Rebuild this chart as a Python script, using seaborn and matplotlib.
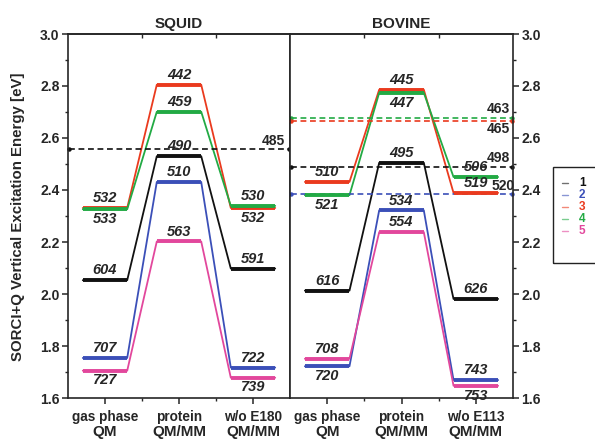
import numpy as np
import pandas as pd
import matplotlib
matplotlib.use("Agg")
import matplotlib.pyplot as plt
import seaborn as sns
from matplotlib.lines import Line2D
from matplotlib.patches import Rectangle
from matplotlib.ticker import MultipleLocator, FixedLocator

# ============================================
# Data (energies in eV, labels are wavelengths in nm)
# ============================================
states = ["1", "2", "3", "4", "5"]
state_colors = ["#111111", "#3b4fb8", "#ea3a1e", "#22aa44", "#e2479c"]

squid_cats = ["gas phase", "protein", "w/o E180"]
bovine_cats = ["gas phase", "protein", "w/o E113"]
cat_methods = ["QM", "QM/MM", "QM/MM"]

squid_energy = [
    [2.053, 2.530, 2.098],
    [1.754, 2.431, 1.717],
    [2.331, 2.805, 2.331],
    [2.326, 2.701, 2.339],
    [1.705, 2.202, 1.678],
]
squid_nm = [
    [604, 490, 591],
    [707, 510, 722],
    [532, 442, 532],
    [533, 459, 530],
    [727, 563, 739],
]
# label under the level instead of above
squid_below = [
    [False, False, False],
    [False, False, False],
    [False, False, True],
    [True, False, False],
    [True, False, True],
]

bovine_energy = [
    [2.013, 2.505, 1.981],
    [1.722, 2.322, 1.669],
    [2.431, 2.786, 2.389],
    [2.380, 2.774, 2.450],
    [1.751, 2.238, 1.647],
]
bovine_nm = [
    [616, 495, 626],
    [720, 534, 743],
    [510, 445, 519],
    [521, 447, 506],
    [708, 554, 753],
]
bovine_below = [
    [False, False, False],
    [True, False, False],
    [False, False, False],
    [True, True, False],
    [False, False, True],
]

# experimental reference lines (dashed)
squid_ref_state = [0]
squid_ref_energy = [2.556]
squid_ref_nm = [485]
squid_ref_below = [False]

bovine_ref_state = [3, 2, 0, 1]
bovine_ref_energy = [2.678, 2.666, 2.490, 2.384]
bovine_ref_nm = [463, 465, 498, 520]
bovine_ref_below = [False, True, False, False]

# layout only
HALF = 0.3  # half width of a level
squid_ref_label_x = [2.78]
bovine_ref_label_x = [2.80, 2.80, 2.80, 2.87]


def draw_panel(ax, title, cats, energy, nm, below, ref_state, ref_energy, ref_nm, ref_below, ref_x):
    # thin connecting profile for each state
    rows = []
    for s, row in enumerate(energy):
        for i, e in enumerate(row):
            rows.append({"state": states[s], "x": i + 0.5 - HALF, "energy": e})
            rows.append({"state": states[s], "x": i + 0.5 + HALF, "energy": e})
    df = pd.DataFrame(rows)
    sns.lineplot(data=df, x="x", y="energy", hue="state", palette=state_colors,
                 sort=False, estimator=None, linewidth=1.3, legend=False, ax=ax)

    # thick levels + labels
    for s, row in enumerate(energy):
        for i, e in enumerate(row):
            ax.hlines(e, i + 0.5 - HALF, i + 0.5 + HALF, color=state_colors[s], lw=2.8, zorder=3)
            dy = -2 if below[s][i] else 2
            ax.annotate(str(nm[s][i]), (i + 0.5, e), xytext=(0, dy), textcoords="offset points",
                        ha="center", va="top" if below[s][i] else "bottom",
                        fontsize=10.5, fontweight="bold", fontstyle="italic", zorder=4)

    # dashed experimental references
    for k, e in enumerate(ref_energy):
        c = state_colors[ref_state[k]]
        ax.plot([0.02, 2.98], [e, e], ls=(0, (3.5, 2.2)), lw=1.2, color=c, zorder=2,
                marker="o", ms=2.2, clip_on=False)
        ax.annotate(str(ref_nm[k]), (ref_x[k], e), xytext=(0, -1 if ref_below[k] else 1),
                    textcoords="offset points", ha="center",
                    va="top" if ref_below[k] else "bottom",
                    fontsize=10, fontweight="bold", zorder=4)

    ax.set_xlim(0, 3)
    ax.set_ylim(1.6, 3.0)
    ax.set_xlabel("")
    ax.set_ylabel("")
    ax.set_title(title, fontsize=11, fontweight="bold", pad=4)

    ax.xaxis.set_major_locator(FixedLocator([0.5, 1.5, 2.5]))
    ax.xaxis.set_minor_locator(FixedLocator([1, 2]))
    ax.set_xticklabels(cats, fontsize=9.8, fontweight="bold")
    ax.yaxis.set_major_locator(MultipleLocator(0.2))
    ax.yaxis.set_minor_locator(MultipleLocator(0.1))
    ax.tick_params(which="major", length=4, width=1.1, direction="out", pad=2)
    ax.tick_params(axis="x", which="major", pad=4.5)
    ax.tick_params(which="minor", length=2.5, width=1.0, direction="out")
    for lab in ax.get_yticklabels():
        lab.set_fontweight("bold")
        lab.set_fontsize(10)

    for i, m in enumerate(cat_methods):
        ax.text(i + 0.5, -0.094, m, transform=ax.get_xaxis_transform(), ha="center", va="center",
                fontsize=11, fontweight="bold")

    top = ax.secondary_xaxis("top")
    top.set_ticks([1, 2])
    top.set_xticklabels([])
    top.tick_params(direction="in", length=3, width=1.0)
    top.spines["top"].set_linewidth(1.2)

    for sp in ax.spines.values():
        sp.set_linewidth(1.2)
        sp.set_visible(True)


sns.set_style("ticks")
plt.rcParams["font.family"] = ["Liberation Sans", "DejaVu Sans"]

fig = plt.figure(figsize=(5.95, 4.42), dpi=100)
ax1 = fig.add_axes([68 / 595, 44 / 442, 222 / 595, 364 / 442])
ax2 = fig.add_axes([290 / 595, 44 / 442, 223 / 595, 364 / 442])

draw_panel(ax1, "SQUID", squid_cats, squid_energy, squid_nm, squid_below,
           squid_ref_state, squid_ref_energy, squid_ref_nm, squid_ref_below, squid_ref_label_x)
draw_panel(ax2, "BOVINE", bovine_cats, bovine_energy, bovine_nm, bovine_below,
           bovine_ref_state, bovine_ref_energy, bovine_ref_nm, bovine_ref_below, bovine_ref_label_x)

ax2.yaxis.tick_right()
ax2.yaxis.set_label_position("right")
for lab in ax2.get_yticklabels():
    lab.set_fontweight("bold")
    lab.set_fontsize(10)

fig.text(18 / 595, 0.51, "SORCI+Q Vertical Excitation Energy [eV]", rotation=90,
         ha="center", va="center", fontsize=10.8, fontweight="bold")

# legend box (runs past the right edge, as in the original)
fig.patches.append(Rectangle((553 / 595, 1 - 263 / 442), 60 / 595, 96 / 442,
                             transform=fig.transFigure, fill=False, edgecolor="#222222", lw=1.0))
for k, (lab, c) in enumerate(zip(states, state_colors)):
    yk = 1 - (183 + 12 * k) / 442
    fig.add_artist(Line2D([562 / 595, 568 / 595], [yk, yk], transform=fig.transFigure,
                          color=c, lw=1.0, alpha=0.6))
    fig.text(579 / 595, yk, lab, color=c, ha="left", va="center", fontsize=8.5, fontweight="bold")

fig.savefig("out.png", dpi=100)
